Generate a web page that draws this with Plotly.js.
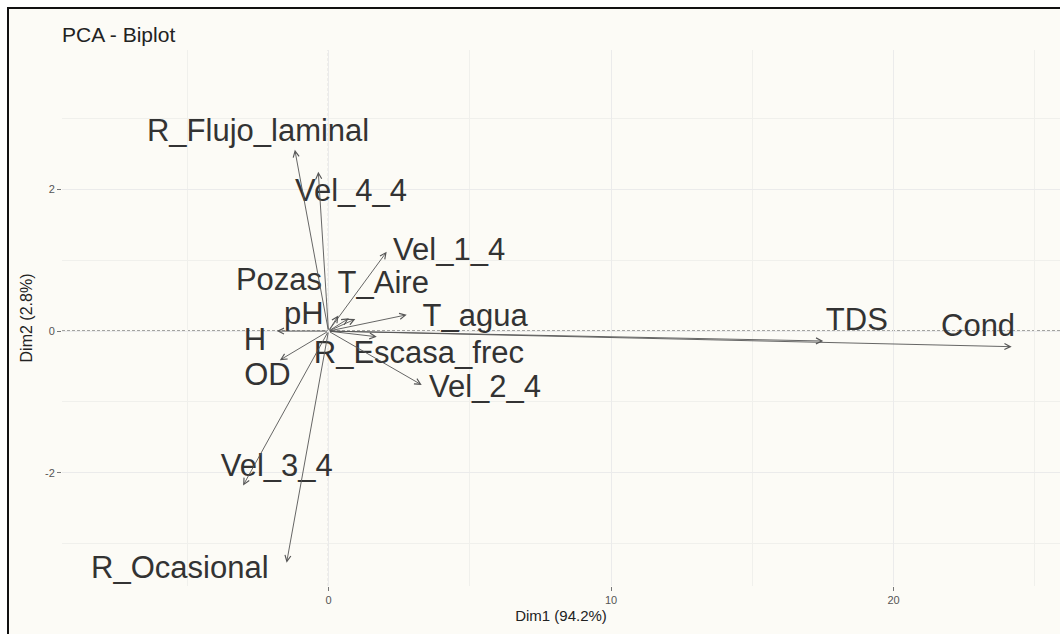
<!DOCTYPE html>
<html>
<head>
<meta charset="utf-8">
<script src="https://cdn.plot.ly/plotly-3.0.1.min.js"></script>
<style>
  html, body { margin: 0; padding: 0; background: #ffffff; width: 1060px; height: 634px; overflow: hidden; }
  #topbar { position: absolute; left: 7px; top: 7px; width: 1053px; height: 2px; background: #111; }
  #leftbar { position: absolute; left: 7px; top: 7px; width: 2px; height: 627px; background: #111; }
  #plot { position: absolute; left: 9px; top: 9px; width: 1051px; height: 625px; }
</style>
</head>
<body>
<div id="plot"></div>
<div id="topbar"></div>
<div id="leftbar"></div>
<script>
// Variable names
const varNames = ['Cond', 'TDS', 'T_agua', 'T_Aire', 'pH', 'Pozas', 'H', 'OD',
                  'R_Escasa_frec', 'Vel_1_4', 'Vel_2_4', 'Vel_3_4', 'Vel_4_4',
                  'R_Flujo_laminal', 'R_Ocasional'];
// Arrow tips (variable coordinates)
const dim1 = [24.18, 17.51, 2.77, 0.95, 0.72, 0.35, -1.83, -1.72,
              1.71, 2.06, 3.30, -3.02, -0.36, -1.19, -1.48];
const dim2 = [-0.22, -0.14, 0.23, 0.17, 0.18, 0.22, 0.00, -0.41,
              -0.08, 1.12, -0.76, -2.18, 2.25, 2.56, -3.27];
// Label positions (repelled)
const labelX = [22.99, 18.70, 5.19, 1.94, -0.87, -1.75, -2.60, -2.16,
                3.20, 4.27, 5.54, -1.83, 0.80, -2.49, -5.26];
const labelY = [0.04, 0.12, 0.18, 0.65, 0.21, 0.69, -0.16, -0.65,
                -0.34, 1.12, -0.82, -1.93, 1.95, 2.80, -3.38];
// Axis ticks
const xTicks = [0, 10, 20];
const xMinor = [-5, 5, 15, 25];
const yTicks = [-2, 0, 2];
const yMinor = [-3, -1, 1, 3];

const bg = '#fcfbf6';
const fam = 'Liberation Sans, Arial, sans-serif';
const tickFont = { family: fam, size: 11, color: '#555' };

const labelTrace = {
  type: 'scatter',
  mode: 'text',
  x: labelX,
  y: labelY,
  text: varNames,
  textposition: 'middle center',
  textfont: { family: fam, size: 31, color: '#333' },
  hoverinfo: 'skip',
  showlegend: false,
  cliponaxis: false
};

const arrows = varNames.map((n, i) => ({
  x: dim1[i], y: dim2[i], xref: 'x', yref: 'y',
  ax: 0, ay: 0, axref: 'x', ayref: 'y',
  text: '', showarrow: true,
  arrowhead: 5, arrowsize: 1.3, arrowwidth: 0.9, arrowcolor: '#555',
  standoff: 0
}));

const layout = {
  width: 1051, height: 625,
  margin: { l: 53, r: 0, t: 41, b: 48 },
  paper_bgcolor: bg, plot_bgcolor: bg,
  showlegend: false,
  title: {
    text: 'PCA - Biplot',
    x: 0, xref: 'paper', xanchor: 'left',
    y: 1 - 26 / 625, yref: 'container', yanchor: 'middle',
    font: { family: fam, size: 21, color: '#222' }
  },
  xaxis: {
    range: [-9.43, 25.89],
    tickvals: xTicks, ticktext: xTicks.map(String),
    ticks: 'outside', ticklen: 4, tickwidth: 1, tickcolor: '#777',
    tickfont: tickFont,
    showgrid: true, gridcolor: '#ebebeb', gridwidth: 1,
    minor: { tickvals: xMinor, showgrid: true, gridcolor: '#f0f0ec', gridwidth: 1, ticks: '' },
    zeroline: false, showline: false,
    title: { text: 'Dim1 (94.2%)', font: { family: fam, size: 15, color: '#222' }, standoff: 5 }
  },
  yaxis: {
    range: [-3.60, 3.97],
    tickvals: yTicks, ticktext: yTicks.map(String),
    ticks: 'outside', ticklen: 4, tickwidth: 1, tickcolor: '#777',
    tickfont: tickFont,
    showgrid: true, gridcolor: '#ebebeb', gridwidth: 1,
    minor: { tickvals: yMinor, showgrid: true, gridcolor: '#f0f0ec', gridwidth: 1, ticks: '' },
    zeroline: false, showline: false,
    title: { text: 'Dim2 (2.8%)', font: { family: fam, size: 16, color: '#222' }, standoff: 8 }
  },
  shapes: [
    { type: 'line', xref: 'paper', x0: 0, x1: 1, yref: 'y', y0: 0, y1: 0,
      line: { color: '#222', width: 1, dash: '3px,2px' }, layer: 'below' },
    { type: 'line', yref: 'paper', y0: 0, y1: 1, xref: 'x', x0: 0, x1: 0,
      line: { color: '#222', width: 1, dash: '3px,2px' }, layer: 'below' }
  ],
  annotations: arrows
};

Plotly.newPlot('plot', [labelTrace], layout, { displayModeBar: false, staticPlot: true });
</script>
</body>
</html>
